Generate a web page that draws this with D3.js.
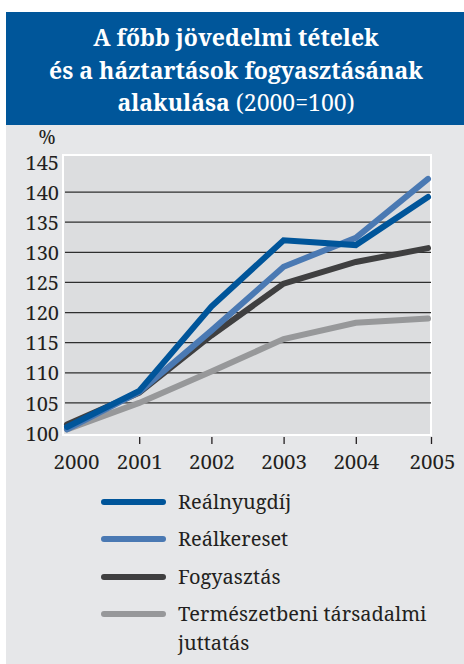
<!DOCTYPE html>
<html>
<head>
<meta charset="utf-8">
<script src="https://cdn.jsdelivr.net/npm/d3@7"></script>
<style>
  body { margin: 0; background: #fff; }
  svg { display: block; }
</style>
</head>
<body>
<div id="chart"></div>
<script>
const years = [2000, 2001, 2002, 2003, 2004, 2005];
const realnyugdij = [101.0, 107.0, 121.0, 132.0, 131.2, 139.2];
const realkereset = [100.6, 106.8, 117.0, 127.6, 132.4, 142.2];
const fogyasztas = [101.4, 106.7, 116.2, 124.8, 128.4, 130.7];
const termeszetbeni = [100.6, 105.0, 110.2, 115.6, 118.3, 119.0];
const yTicks = [100, 105, 110, 115, 120, 125, 130, 135, 140, 145];
const gridTicks = [105, 110, 115, 120, 125, 130, 135, 140];

const series = [
    {name: "Reálnyugdíj", values: realnyugdij, color: "#00559a"},
    {name: "Reálkereset", values: realkereset, color: "#4a79b3"},
    {name: "Fogyasztás", values: fogyasztas, color: "#3f3f40"},
    {name: "Természetbeni társadalmi|juttatás", values: termeszetbeni, color: "#97989a"}
];

const W = 464, H = 664;
const font = "Noto Serif";
const ink = "#231f20";

let svg = d3.select("#chart").append("svg")
    .attr("width", W)
    .attr("height", H);

// panel + title band
svg.append("rect").attr("x", 6).attr("y", 12).attr("width", W - 6).attr("height", H - 12).attr("fill", "#e6e7e9");
svg.append("rect").attr("x", 6).attr("y", 12).attr("width", W - 6).attr("height", 113).attr("fill", "#00569a");

let title = svg.append("text")
    .attr("text-anchor", "middle")
    .attr("fill", "#fff")
    .attr("font-family", font)
    .attr("font-size", 23)
    .attr("font-weight", "bold");
title.append("tspan").attr("x", 236).attr("y", 46).text("A főbb jövedelmi tételek");
title.append("tspan").attr("x", 236).attr("y", 79).text("és a háztartások fogyasztásának");
let l3 = title.append("tspan").attr("x", 236).attr("y", 111);
l3.append("tspan").text("alakulása ");
l3.append("tspan").attr("font-weight", "normal").attr("font-family", font).text("(2000=100)");

// plot area
let plot = {left: 63, right: 431, top: 155, bottom: 435};

let x = d3.scaleLinear()
    .domain([2000, 2005])
    .range([67, 428]);

let y = d3.scaleLinear()
    .domain([100, 145])
    .range([433, 162]);

svg.append("rect")
    .attr("x", plot.left).attr("y", plot.top)
    .attr("width", plot.right - plot.left).attr("height", plot.bottom - plot.top)
    .attr("fill", "#dcdddf")
    .attr("stroke", "#fff")
    .attr("stroke-width", 2);

svg.selectAll(".grid")
    .data(gridTicks)
    .enter().append("line")
    .attr("class", "grid")
    .attr("x1", plot.left + 2)
    .attr("x2", plot.right)
    .attr("y1", d => y(d))
    .attr("y2", d => y(d))
    .attr("stroke", "#2e2e2e")
    .attr("stroke-width", 1.2);

// y axis labels
let yAxis = svg.append("g")
    .attr("transform", `translate(${plot.left - 4},0)`)
    .call(d3.axisLeft(y).tickValues(yTicks).tickSize(0).tickPadding(0));
yAxis.select(".domain").remove();
yAxis.selectAll("text")
    .attr("dy", "0.36em")
    .attr("fill", ink)
    .attr("font-family", font)
    .attr("font-size", 20);

svg.append("text")
    .attr("x", 47).attr("y", 144)
    .attr("text-anchor", "middle")
    .attr("fill", ink)
    .attr("font-family", font)
    .attr("font-size", 19)
    .text("%");

// x axis
let xAxis = svg.append("g")
    .attr("transform", `translate(0,${plot.bottom + 2})`)
    .call(d3.axisBottom(x).tickValues(years).tickFormat(d3.format("d")).tickSize(7).tickPadding(10));
xAxis.select(".domain").remove();
xAxis.selectAll("line")
    .attr("stroke", ink)
    .attr("stroke-width", 1.3)
    .attr("opacity", d => d === 2000 ? 0 : 1)
    .attr("x1", d => d === 2005 ? 3 : 0)
    .attr("x2", d => d === 2005 ? 3 : 0);
xAxis.selectAll("text")
    .attr("fill", ink)
    .attr("font-family", font)
    .attr("font-size", 20.5)
    .attr("dx", d => d === 2000 ? 9 : (d === 2005 ? 4 : 0));

// lines
let line = d3.line()
    .x((d, i) => x(years[i]))
    .y(d => y(d));

[...series].reverse().forEach(s => {
    svg.append("path")
        .datum(s.values)
        .attr("d", line)
        .attr("fill", "none")
        .attr("stroke", s.color)
        .attr("stroke-width", 6)
        .attr("stroke-linecap", "round")
        .attr("stroke-linejoin", "miter");
});

// legend
let legendY = [502, 539, 577, 614];
series.forEach((s, i) => {
    let g = svg.append("g").attr("transform", `translate(0,${legendY[i]})`);
    g.append("line")
        .attr("x1", 104).attr("x2", 163)
        .attr("y1", 0).attr("y2", 0)
        .attr("stroke", s.color)
        .attr("stroke-width", 6)
        .attr("stroke-linecap", "round");
    let t = g.append("text")
        .attr("fill", ink)
        .attr("font-family", font)
        .attr("font-size", 20);
    s.name.split("|").forEach((part, j) => {
        t.append("tspan").attr("x", 178).attr("y", 7 + j * 29).attr("font-family", font).text(part);
    });
});
</script>
</body>
</html>
